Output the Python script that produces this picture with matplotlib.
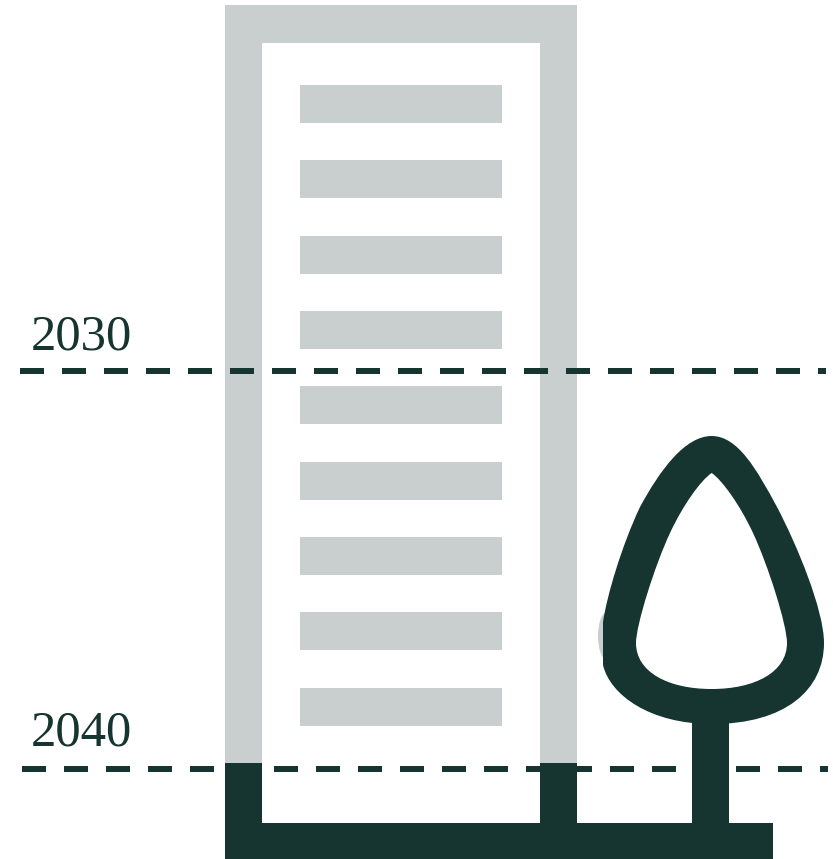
import matplotlib
matplotlib.use("Agg")
import matplotlib.pyplot as plt
from matplotlib.patches import Rectangle, PathPatch, Ellipse
from matplotlib.path import Path

dark = "#163430"
grey = "#c9cfce"

# everything below is in image pixels, y going down
years = ["2030", "2040"]
year_line_y = [371, 769]
year_line_x0 = [20, 22.5]
year_line_x1 = [826, 828]
year_text_y = [349, 745]

window_tops = [85, 160, 236, 311, 386, 462, 537, 612, 688]

# bezier control points, start point first then three per segment
tree_outer = [(711.7, 436),
              (738, 436), (757, 470), (777, 507),
              (797, 545), (824, 610), (824, 643),
              (824, 690), (785, 724), (712, 724),
              (650, 724), (610, 695), (603, 665),
              (603, 650), (603, 640), (603, 622),
              (607, 595), (622, 545), (640, 507),
              (660, 470), (685, 436), (711.7, 436)]
tree_inner = [(711.7, 473),
              (722, 480), (740, 505), (753, 533),
              (768, 565), (787, 625), (787, 643),
              (787, 672), (755, 689), (711.7, 689),
              (668, 689), (636, 672), (636, 643),
              (636, 625), (655, 565), (670, 533),
              (683, 505), (701, 480), (711.7, 473)]


def bezier_path(pts):
    return Path(pts, [Path.MOVETO] + [Path.CURVE4] * (len(pts) - 1))


fig = plt.figure(figsize=(8.33, 8.59), dpi=100)
ax = fig.add_axes([0, 0, 1, 1])
ax.set_xlim(0, 833)
ax.set_ylim(859, 0)
ax.axis("off")

# building, grey part
ax.add_patch(Rectangle((225, 5), 352, 38, color=grey, lw=0, zorder=1))
ax.add_patch(Rectangle((225, 5), 37, 760, color=grey, lw=0, zorder=1))
ax.add_patch(Rectangle((540, 5), 37, 760, color=grey, lw=0, zorder=1))
for top in window_tops:
    ax.add_patch(Rectangle((300, top), 202, 38, color=grey, lw=0, zorder=1))

# faint grey edge showing behind the tree
ax.add_patch(Ellipse((606, 636), 16, 46, color=grey, lw=0, zorder=1))

# dashed year lines
for i, year in enumerate(years):
    y = year_line_y[i]
    ax.plot([year_line_x0[i], year_line_x1[i]], [y, y], color=dark, lw=4.32,
            linestyle=(0, (4, 3)), dash_capstyle="butt", zorder=2)
    ax.text(31, year_text_y[i], year, color=dark, fontsize=36.5,
            family="Liberation Serif", ha="left", va="baseline")

# dark part of the building and ground
ax.add_patch(Rectangle((225, 763), 37, 96, color=dark, lw=0, zorder=3))
ax.add_patch(Rectangle((540, 763), 37, 96, color=dark, lw=0, zorder=3))
ax.add_patch(Rectangle((225, 823), 548, 36, color=dark, lw=0, zorder=3))

# tree
ax.add_patch(Rectangle((692, 715), 37, 110, color=dark, lw=0, zorder=3))
ax.add_patch(PathPatch(bezier_path(tree_outer), facecolor=dark, lw=0, zorder=3))
ax.add_patch(PathPatch(bezier_path(tree_inner), facecolor="white", lw=0, zorder=4))

fig.savefig("out.png", dpi=100, facecolor="white")
